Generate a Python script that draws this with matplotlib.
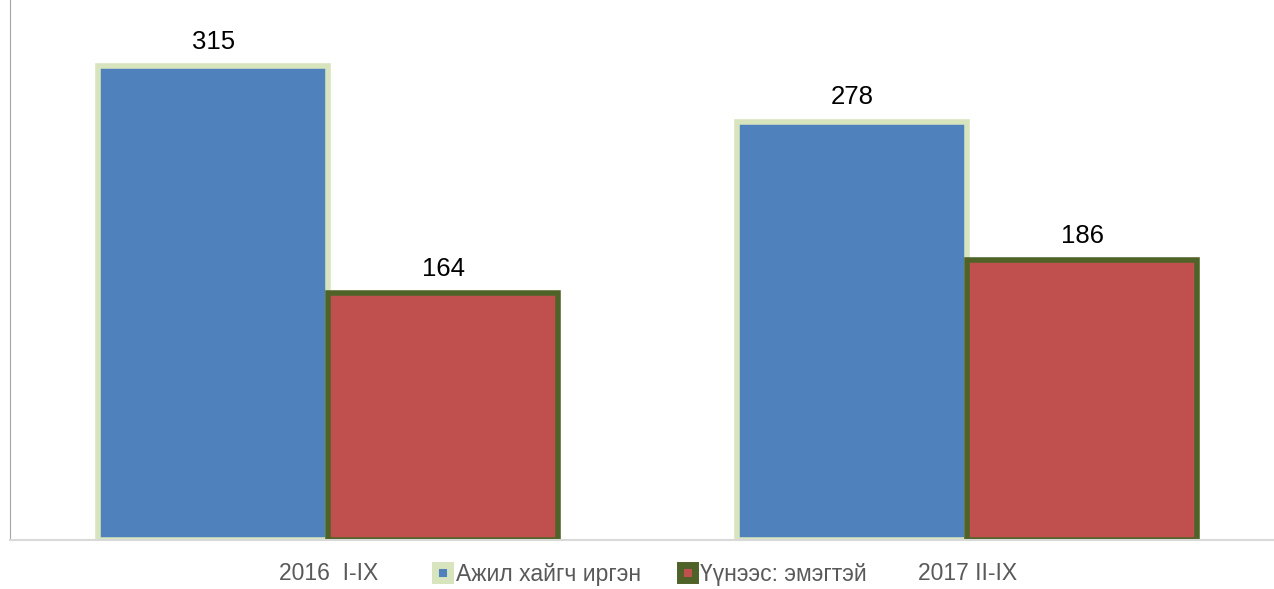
import matplotlib
matplotlib.use("Agg")
import matplotlib.pyplot as plt
from matplotlib.patches import Patch
import numpy as np

categories = ["2016  I-IX", "2017 II-IX"]
series_names = ["Ажил хайгч иргэн", "Үүнээс: эмэгтэй"]
job_seekers = [315, 278]
women = [164, 186]

plt.rcParams['font.family'] = ['Liberation Sans', 'DejaVu Sans']

fig = plt.figure(figsize=(12.74, 5.89), dpi=100)
ax = fig.add_axes([10/1274, 49/589, 1 - 10/1274, 540/589])

x = np.arange(len(categories))
w = 0.36
blue_fc, blue_ec = "#4F81BD", "#D7E4BD"
red_fc, red_ec = "#C0504D", "#4F6228"

b1 = ax.bar(x - w/2, job_seekers, w, color=blue_fc, edgecolor=blue_ec, linewidth=4)
b2 = ax.bar(x + w/2, women, w, color=red_fc, edgecolor=red_ec, linewidth=4)

for bars, vals in ((b1, job_seekers), (b2, women)):
    for rect, v in zip(bars, vals):
        ax.annotate(str(v), (rect.get_x() + rect.get_width()/2, v),
                    xytext=(0, 9), textcoords="offset points",
                    ha="center", va="bottom", fontsize=18.5, color="black")

ax.set_xlim(-0.498, 1.48)
ax.set_ylim(0, 359)
ax.set_yticks([])
ax.set_xticks(x)
ax.set_xticklabels(categories, fontsize=16.5, color="#595959")
ax.tick_params(axis="x", length=0, pad=16)
for s in ("top", "right"):
    ax.spines[s].set_visible(False)
ax.spines["left"].set_color("#A6A6A6")
ax.spines["bottom"].set_color("#D9D9D9")
ax.spines["bottom"].set_linewidth(1.5)

handles = [Patch(facecolor=blue_fc, edgecolor=blue_ec, linewidth=5),
           Patch(facecolor=red_fc, edgecolor=red_ec, linewidth=5)]
fig.legend(handles, series_names, loc="center", bbox_to_anchor=(651/1274, 15/589),
           ncol=2, frameon=False, fontsize=16.5, handlelength=0.65, handleheight=0.65,
           handletextpad=0.25, columnspacing=1.7, labelcolor="#595959",
           borderpad=0)

fig.savefig("out.png", dpi=100)
